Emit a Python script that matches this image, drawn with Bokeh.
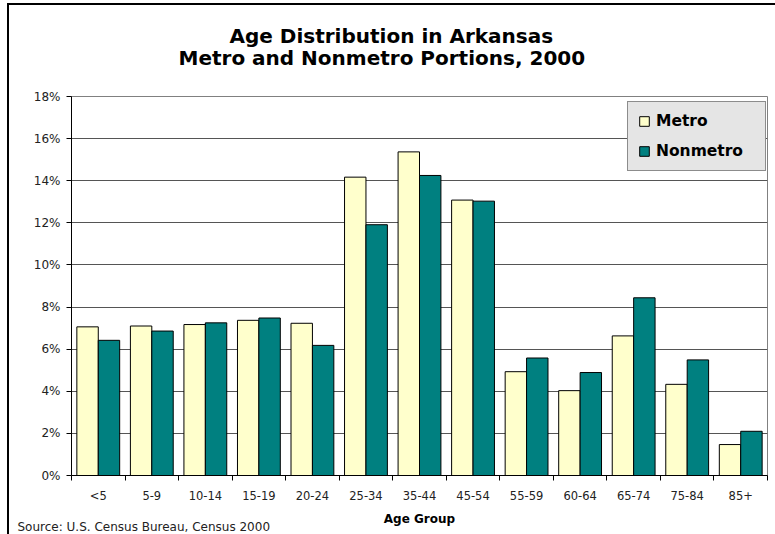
from bokeh.plotting import figure
from bokeh.models import (Range1d, FixedTicker, PrintfTickFormatter, Legend, LegendItem,
                          Title, ColumnDataSource)
from bokeh.embed import file_html
from bokeh.resources import INLINE
import numpy as np

categories = ["<5", "5-9", "10-14", "15-19", "20-24", "25-34", "35-44",
              "45-54", "55-59", "60-64", "65-74", "75-84", "85+"]
metro = [7.06, 7.10, 7.17, 7.37, 7.23, 14.17, 15.37, 13.08, 4.93, 4.03, 6.63, 4.33, 1.47]
nonmetro = [6.42, 6.86, 7.25, 7.48, 6.18, 11.91, 14.25, 13.03, 5.58, 4.89, 8.44, 5.49, 2.10]
y_ticks = [0, 2, 4, 6, 8, 10, 12, 14, 16, 18]

title_1 = "Age Distribution in Arkansas"
title_2 = "Metro and Nonmetro Portions, 2000"
x_title = "Age Group"
source_note = "Source: U.S. Census Bureau, Census 2000"

FONT = "DejaVu Sans"
n = len(categories)
idx = np.arange(n)

src = ColumnDataSource(dict(
    x_metro=idx + 0.3, x_non=idx + 0.7, metro=metro, nonmetro=nonmetro))

p = figure(width=766, height=529, x_range=Range1d(0, n), y_range=Range1d(0, 18),
           output_backend="svg", toolbar_location=None,
           min_border_left=62, min_border_right=10, min_border_top=91, min_border_bottom=61)
p.styles = {"border-left": "2px solid black", "border-top": "2px solid black",
            "margin-left": "7px", "margin-top": "3px", "box-sizing": "content-box"}
p.outline_line_color = "#808080"
p.background_fill_color = "white"

r1 = p.vbar(x="x_metro", top="metro", width=0.4, source=src,
            fill_color="#FFFFCC", line_color="black", line_width=1)
r2 = p.vbar(x="x_non", top="nonmetro", width=0.4, source=src,
            fill_color="#008080", line_color="black", line_width=1)

# axes
p.xgrid.visible = False
p.yaxis.ticker = FixedTicker(ticks=y_ticks, minor_ticks=[])
p.ygrid.ticker = FixedTicker(ticks=y_ticks, minor_ticks=[])
p.ygrid.grid_line_color = "#555555"
p.yaxis.formatter = PrintfTickFormatter(format="%d%%")
p.yaxis.major_tick_out = 5
p.yaxis.major_tick_in = 0
p.yaxis.minor_tick_line_color = None
p.yaxis.axis_line_color = "black"
p.yaxis.major_label_text_font = FONT
p.yaxis.major_label_text_font_size = "12px"
p.yaxis.major_label_text_color = "#222222"
p.yaxis.major_label_standoff = 6

centers = [float(i) + 0.5 for i in idx]
bounds = [float(i) for i in range(n + 1)]
p.xaxis.ticker = FixedTicker(ticks=centers, minor_ticks=bounds)
p.xaxis.major_label_overrides = {c: lab for c, lab in zip(centers, categories)}
p.xaxis.major_tick_out = 0
p.xaxis.major_tick_in = 0
p.xaxis.major_tick_line_color = None
p.xaxis.minor_tick_out = 5
p.xaxis.minor_tick_in = 0
p.xaxis.minor_tick_line_color = "black"
p.xaxis.axis_line_color = "black"
p.xaxis.major_label_text_font = FONT
p.xaxis.major_label_text_font_size = "11.5px"
p.xaxis.major_label_text_color = "#222222"
p.xaxis.major_label_standoff = 8
p.xaxis.axis_label = x_title
p.xaxis.axis_label_text_font = FONT
p.xaxis.axis_label_text_font_style = "bold"
p.xaxis.axis_label_text_font_size = "12px"
p.xaxis.axis_label_text_color = "black"
p.xaxis.axis_label_standoff = 6

# titles: spacer next to the frame, then line 2, then line 1
def ttl(text, offset, standoff):
    return Title(text=text, align="left", offset=offset, standoff=standoff,
                 text_font=FONT, text_font_style="bold", text_font_size="20px",
                 text_color="black")

p.add_layout(ttl(" ", 0, 1.3), "above")
p.add_layout(ttl(title_2, 107, 0), "above")
p.add_layout(ttl(title_1, 158, -8.6), "above")

# source note under the axis
p.add_layout(Title(text=source_note, align="left", offset=-54, standoff=-18,
                   vertical_align="top", text_font=FONT, text_font_style="normal",
                   text_font_size="12px", text_color="#222222"), "below")

# legend
legend = Legend(items=[LegendItem(label="Metro", renderers=[r1]),
                       LegendItem(label="Nonmetro", renderers=[r2])],
                location=(556, 304), label_text_font=FONT, label_text_font_style="bold",
                label_text_font_size="15.5px", label_text_color="black",
                glyph_width=12, glyph_height=12,
                label_height=12, label_width=99, label_standoff=6, padding=10, spacing=12,
                background_fill_color="#E5E5E5", background_fill_alpha=1,
                border_line_color="#333333", border_line_width=1, margin=0)
p.add_layout(legend)

open("out.html", "w").write(file_html(p, INLINE))
